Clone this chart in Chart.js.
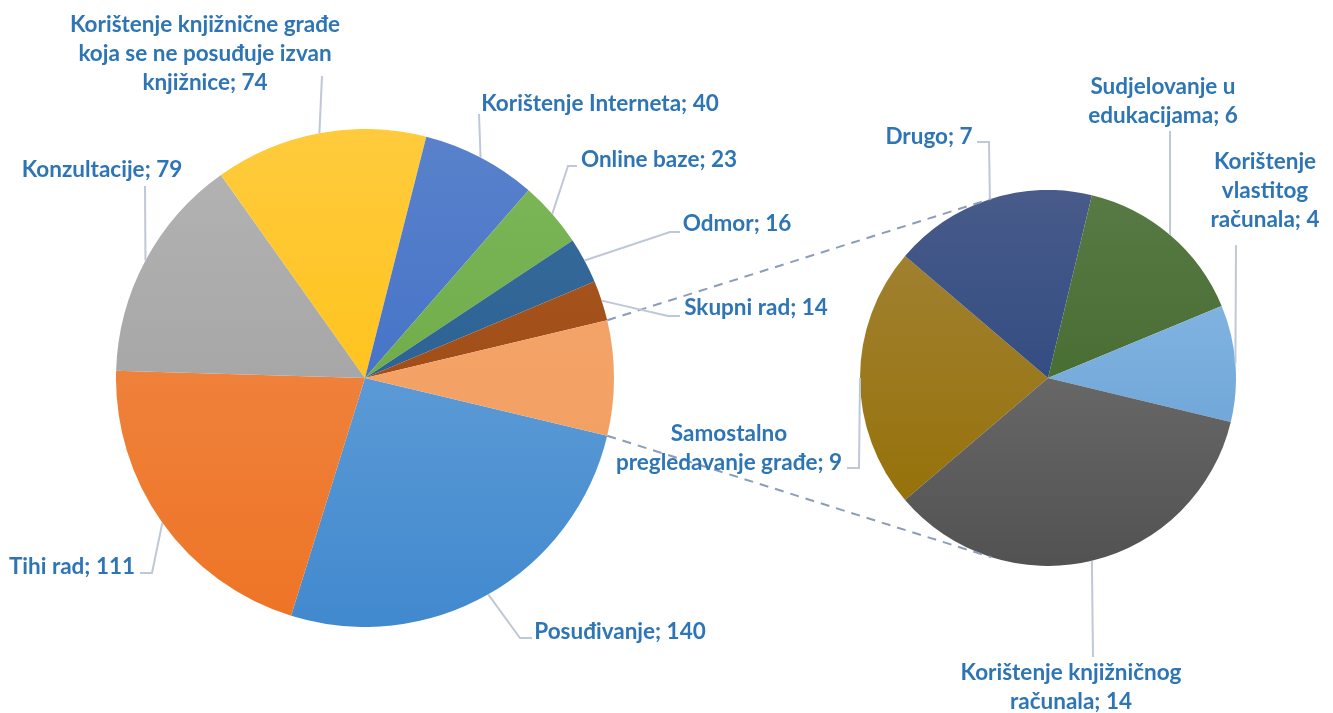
<!DOCTYPE html>
<html>
<head>
<meta charset="utf-8">
<script src="https://cdn.jsdelivr.net/npm/chart.js@4.4.1/dist/chart.umd.min.js"></script>
<style>
  body { margin: 0; background: #fff; width: 1333px; height: 713px; overflow: hidden; position: relative; }
  #mainBox { position: absolute; left: 116px; top: 129px; width: 498px; height: 498px; }
  #subBox { position: absolute; left: 860px; top: 190px; width: 376px; height: 376px; }
  #overlay { position: absolute; left: 0; top: 0; }
</style>
</head>
<body>
<div id="mainBox"><canvas id="mainPie" width="498" height="498"></canvas></div>
<div id="subBox"><canvas id="subPie" width="376" height="376"></canvas></div>
<canvas id="overlay" width="1333" height="713"></canvas>
<script>

const mainLabels = ['Posuđivanje', 'Tihi rad', 'Konzultacije', 'Korištenje knjižnične građe koja se ne posuđuje izvan knjižnice', 'Korištenje Interneta', 'Online baze', 'Odmor', 'Skupni rad']
const mainValues = [140, 111, 79, 74, 40, 23, 16, 14]

const subLabels = ['Samostalno pregledavanje građe', 'Drugo', 'Sudjelovanje u edukacijama', 'Korištenje vlastitog računala', 'Korištenje knjižničnog računala']
const subValues = [9, 7, 6, 4, 14]

// the "other" slice of the big pie is the small pie
let otherValue = subValues.reduce((a, b) => a + b, 0)
let mainTotal = mainValues.reduce((a, b) => a + b, 0) + otherValue

// gradient colours, top -> bottom
const mainTop = ['#74AADD', '#F08D4F', '#B4B4B4', '#FFCB3D', '#5A82CB', '#7EB75A', '#3A6C9B', '#AB5A26', '#F5A86F']
const mainBottom = ['#4189CE', '#EE7425', '#9A9A9A', '#FFBC00', '#3366C6', '#62A43A', '#1F5A8F', '#974209', '#F29B5C']
const subTop = ['#A3843A', '#485B8A', '#587A45', '#8FBDE6', '#7C7C7C']
const subBottom = ['#946E00', '#1F3F7A', '#3A6222', '#5F9BD2', '#525252']

// label placement: text centre, words per line, leader points from the label side
const mainLabelPos = [
    { x: 620, y: 632, leader: [[532, 638], [520, 638]] },
    { x: 72, y: 567, leader: [[140, 573], [152, 573]] },
    { x: 102, y: 170, leader: [[145, 186]] },
    { x: 205, y: 25, lines: [3, 5, 2], leader: [[322, 76]] },
    { x: 600, y: 104, leader: [[479, 114]] },
    { x: 659, y: 160, leader: [[577, 166], [568, 166]] },
    { x: 737, y: 224, leader: [[680, 232], [670, 232]] },
    { x: 756, y: 308, leader: [[680, 316], [668, 316]] }
]
const subLabelPos = [
    { x: 729, y: 434, lines: [1, 3], leader: [[847, 468], [859, 468]] },
    { x: 929, y: 137, leader: [[977, 142], [989, 142]] },
    { x: 1163, y: 87, lines: [2, 2], leader: [[1170, 131]] },
    { x: 1265, y: 162, lines: [1, 1, 2], leader: [[1236, 245]] },
    { x: 1071, y: 673, lines: [2, 2], leader: [[1093, 657]] }
]

function gradientFill (tops, bottoms) {
    return function (context) {
        let chart = context.chart
        let area = chart.chartArea
        let i = context.dataIndex
        if (!area) return tops[i]
        let g = chart.ctx.createLinearGradient(0, area.top, 0, area.bottom)
        g.addColorStop(0, tops[i])
        g.addColorStop(1, bottoms[i])
        return g
    }
}

let commonOptions = {
    responsive: false,
    animation: false,
    events: [],
    plugins: { legend: { display: false }, tooltip: { enabled: false } },
    layout: { padding: 0 }
}

let mainChart = new Chart(document.getElementById('mainPie').getContext('2d'), {
    type: 'pie',
    data: {
        labels: mainLabels.concat(['Ostalo']),
        datasets: [{
            data: mainValues.concat([otherValue]),
            backgroundColor: gradientFill(mainTop, mainBottom),
            borderWidth: 0
        }]
    },
    options: Object.assign({}, commonOptions, {
        // "other" slice centred on 3 o'clock
        rotation: 90 + otherValue / mainTotal * 180
    })
})

let subChart = new Chart(document.getElementById('subPie').getContext('2d'), {
    type: 'pie',
    data: {
        labels: subLabels,
        datasets: [{
            data: subValues,
            backgroundColor: gradientFill(subTop, subBottom),
            borderWidth: 0
        }]
    },
    options: Object.assign({}, commonOptions, {
        // first slice points back at the big pie
        rotation: 270 - subValues[0] / otherValue * 180
    })
})

function arcPoint (chart, box, index, angle) {
    let arc = chart.getDatasetMeta(0).data[index]
    let p = arc.getProps(['x', 'y', 'startAngle', 'endAngle', 'outerRadius'], true)
    let a = angle === undefined ? (p.startAngle + p.endAngle) / 2 : angle(p)
    return [box.offsetLeft + p.x + Math.cos(a) * p.outerRadius, box.offsetTop + p.y + Math.sin(a) * p.outerRadius]
}

function drawLabels (ctx, chart, box, labels, values, layout) {
    // leader lines
    ctx.strokeStyle = '#BFC8D6'
    ctx.lineWidth = 2
    ctx.setLineDash([])
    layout.forEach(function (l, i) {
        let end = arcPoint(chart, box, i)
        ctx.beginPath()
        ctx.moveTo(l.leader[0][0], l.leader[0][1])
        for (let k = 1; k < l.leader.length; k++) ctx.lineTo(l.leader[k][0], l.leader[k][1])
        ctx.lineTo(end[0], end[1])
        ctx.stroke()
    })
    // texts
    ctx.fillStyle = '#2E75B6'
    ctx.font = 'bold 22.5px Lato'
    ctx.textAlign = 'center'
    ctx.textBaseline = 'middle'
    layout.forEach(function (l, i) {
        let words = (labels[i] + '; ' + values[i]).split(' ')
        let breaks = l.lines || [words.length]
        let w = 0
        breaks.forEach(function (n, row) {
            ctx.fillText(words.slice(w, w + n).join(' '), l.x, l.y + row * 29)
            w += n
        })
    })
}

function drawOverlay () {
    let ctx = document.getElementById('overlay').getContext('2d')
    let mainBox = document.getElementById('mainBox')
    let subBox = document.getElementById('subBox')

    // dashed connectors: corners of the "other" slice, tangent to the small pie
    let otherIndex = mainValues.length
    let top = arcPoint(mainChart, mainBox, otherIndex, p => p.startAngle)
    let bottom = arcPoint(mainChart, mainBox, otherIndex, p => p.endAngle)
    let subArc = subChart.getDatasetMeta(0).data[0]
    let cx = subBox.offsetLeft + subArc.x
    let cy = subBox.offsetTop + subArc.y
    let r = subArc.outerRadius

    function tangent (pt, sign) {
        let dx = pt[0] - cx, dy = pt[1] - cy
        let d = Math.sqrt(dx * dx + dy * dy)
        let a = Math.atan2(dy, dx) + sign * Math.acos(r / d)
        return [cx + Math.cos(a) * r, cy + Math.sin(a) * r]
    }

    ctx.strokeStyle = '#8C9DB8'
    ctx.lineWidth = 2
    ctx.setLineDash([9, 7])
    let t1 = tangent(top, 1)
    let t2 = tangent(bottom, -1)
    ctx.beginPath()
    ctx.moveTo(top[0], top[1]); ctx.lineTo(t1[0], t1[1])
    ctx.moveTo(bottom[0], bottom[1]); ctx.lineTo(t2[0], t2[1])
    ctx.stroke()

    drawLabels(ctx, mainChart, mainBox, mainLabels, mainValues, mainLabelPos)
    drawLabels(ctx, subChart, subBox, subLabels, subValues, subLabelPos)
}

drawOverlay()
</script>
</body>
</html>
